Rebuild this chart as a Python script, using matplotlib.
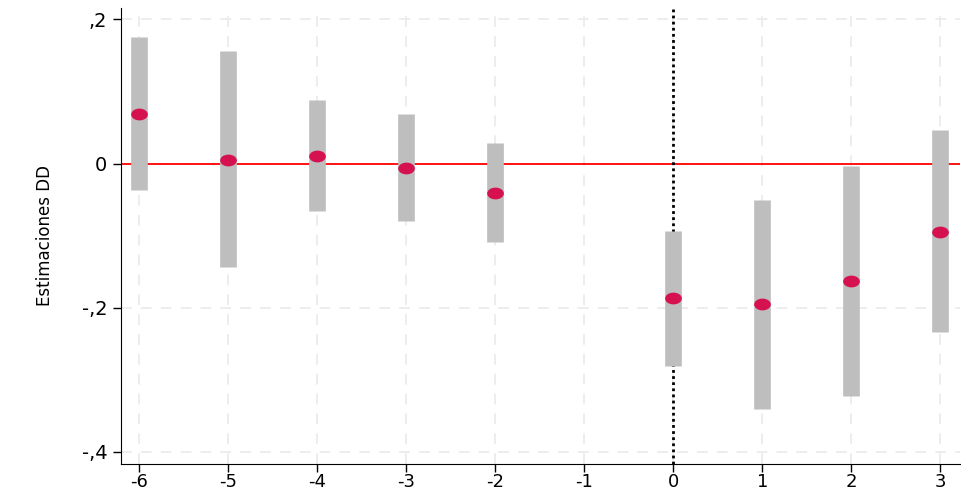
import matplotlib
matplotlib.use("Agg")
import matplotlib.pyplot as plt
from matplotlib.path import Path
import numpy as np

plt.rcParams["axes.unicode_minus"] = False

# periods relative to treatment
periods = [-6, -5, -4, -3, -2, 0, 1, 2, 3]
coef = [0.069, 0.0055, 0.011, -0.0055, -0.041, -0.187, -0.195, -0.163, -0.095]
ci_low = [-0.037, -0.143, -0.066, -0.079, -0.109, -0.281, -0.340, -0.322, -0.234]
ci_high = [0.175, 0.156, 0.088, 0.069, 0.028, -0.094, -0.050, -0.004, 0.046]

xticks = [-6, -5, -4, -3, -2, -1, 0, 1, 2, 3]
yticks = [0.2, 0, -0.2, -0.4]
ylabels = [",2", "0", "-,2", "-,4"]

fig = plt.figure(figsize=(9.61, 4.92), dpi=100)
ax = fig.add_axes([0.126, 0.057, 0.873, 0.927])

# elliptic marker like the stata dots
circ = Path.unit_circle()
ell = Path(circ.vertices * np.array([1.0, 0.68]), circ.codes)

ax.axhline(0, color="red", lw=1.3, zorder=2)
ax.axvline(0, color="black", lw=2, ls=(0, (1, 1.2)), zorder=2)

ax.vlines(periods, ci_low, ci_high, color="#bebebe", lw=12, zorder=3)
ax.plot(periods, coef, ls="none", marker=ell, markersize=11,
        color="#d5114f", zorder=4)

ax.set_xlim(-6.2, 3.22)
ax.set_ylim(-0.4166, 0.216)
ax.set_xticks(xticks)
ax.set_yticks(yticks)
ax.set_yticklabels(ylabels)
ax.grid(True, color="#ececec", ls=(0, (6, 5)), lw=1.3, zorder=0)
ax.set_axisbelow(True)

for s in ["top", "right"]:
    ax.spines[s].set_visible(False)
ax.tick_params(axis="both", length=6, width=1, labelsize=14, direction="out")
ax.tick_params(axis="x", pad=0.5, labelsize=13)
ax.tick_params(axis="y", pad=4)
ax.set_ylabel("Estimaciones DD", fontsize=12, labelpad=20)

fig.savefig("out.png", dpi=100)
